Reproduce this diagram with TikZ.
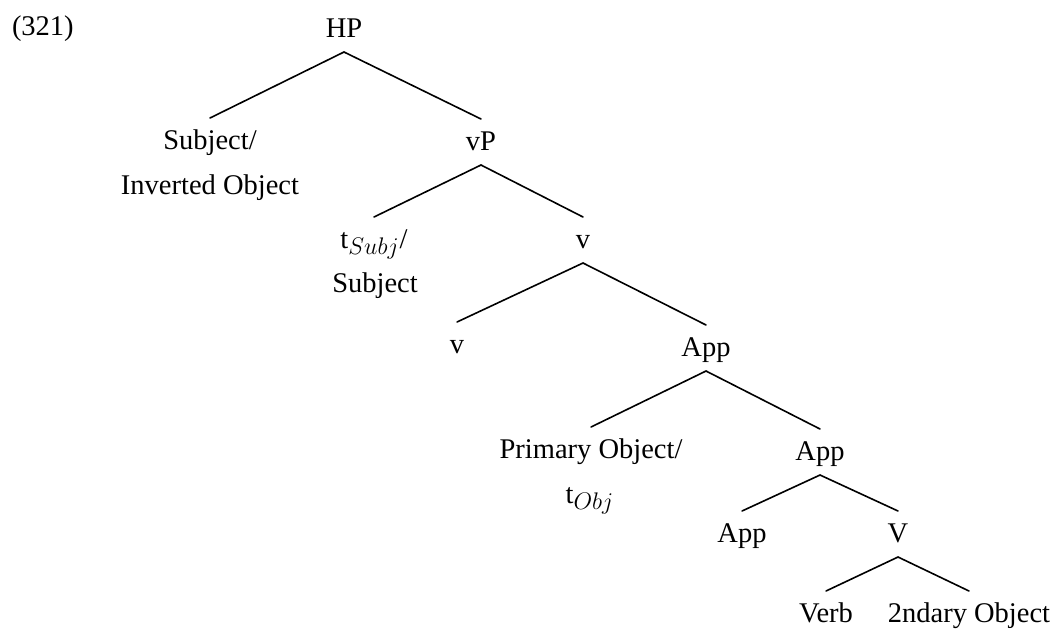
\documentclass[tikz,border=0pt]{standalone}
\usepackage{fontspec}
\setmainfont{Liberation Serif}
\newcommand\mysubtxt[1]{$_{\hbox{\fontsize{11.5pt}{12pt}\selectfont$#1$}}$}
\begin{document}
\begin{tikzpicture}[x=0.5pt,y=-0.5pt,
  lab/.style={anchor=base,inner sep=0pt,outer sep=0pt,font=\fontsize{14.25pt}{17pt}\selectfont},
  tn/.style={lab,text height=15.5pt,text depth=7.5pt},
  branch/.style={line width=0.8pt,line cap=round}]
\useasboundingbox (0,0) rectangle (1058,628);
% labels
\node[lab,anchor=base west] (ex) at (12,35) {(321)};
\node[tn] (hp) at (344,37) {HP};
\node[tn] (subj) at (210,149) {Subject/};
\node[lab] (subj2) at (210,194) {Inverted Object};
\node[tn] (vp) at (481,150) {vP};
\node[tn] (ts) at (374,248) {t\mysubtxt{Subj}/};
\node[lab] (ts2) at (375,292) {Subject};
\node[tn] (vbar) at (583,248) {v};
\node[tn] (vhead) at (457,353) {v};
\node[tn] (app1) at (706,356) {App};
\node[tn] (prim) at (591,458) {Primary Object/};
\node[lab] (prim2) at (590,503) {t\mysubtxt{Obj}};
\node[tn] (app2) at (820,460) {App};
\node[tn] (app3) at (742,542) {App};
\node[tn] (vv) at (898,542) {V};
\node[tn] (verb) at (826,622) {Verb};
\node[tn] (sec) at (969,622) {2ndary Object};
% branches
\draw[branch] (subj.north) -- (hp.south) -- (vp.north);
\draw[branch] (ts.north) -- (vp.south) -- (vbar.north);
\draw[branch] (vhead.north) -- (vbar.south) -- (app1.north);
\draw[branch] (prim.north) -- (app1.south) -- (app2.north);
\draw[branch] (app3.north) -- (app2.south) -- (vv.north);
\draw[branch] (verb.north) -- (vv.south) -- (sec.north);
\end{tikzpicture}
\end{document}
